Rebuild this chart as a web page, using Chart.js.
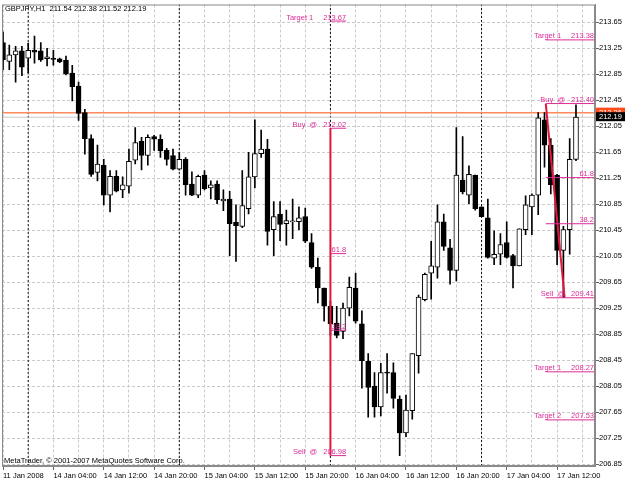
<!DOCTYPE html>
<html><head><meta charset="utf-8">
<script src="https://cdn.jsdelivr.net/npm/chart.js@4/dist/chart.umd.min.js"></script>
<style>html,body{margin:0;padding:0;background:#fff}canvas{display:block}</style>
</head><body>
<canvas id="c" width="625" height="481"></canvas>
<script>
// ---------- data ----------
const chartTitle = 'GBPJPY,H1  211.54 212.38 211.52 212.19';
const copyrightText = 'MetaTrader, \u00A9 2001-2007 MetaQuotes Software Corp.';

const opens  = [213.34,213.05,213.15,213.21,213.10,213.22,213.21,213.09,213.09,213.09,213.07,212.87,212.67,212.26,211.86,211.34,211.45,210.99,211.28,211.07,211.13,211.53,211.82,211.60,211.89,211.85,211.68,211.60,211.39,211.54,211.16,210.99,211.30,211.10,211.16,210.90,210.93,210.57,210.51,210.78,211.27,211.63,211.70,210.46,210.70,210.55,210.58,210.58,210.66,210.26,209.88,209.56,209.28,209.02,208.89,209.25,209.56,209.01,208.43,208.05,207.73,208.26,208.26,207.85,207.33,207.67,208.52,209.38,209.79,209.88,210.58,210.18,209.83,211.22,210.99,211.30,210.81,210.64,210.02,210.08,210.26,210.06,209.90,210.46,210.81,210.99,212.15,211.76,211.30,210.14,210.46,211.54];
const highs  = [213.50,213.30,213.28,213.28,213.33,213.44,213.34,213.25,213.22,213.10,213.13,212.99,212.73,212.31,211.92,211.76,211.54,211.37,211.37,211.27,211.70,212.03,211.88,211.92,211.91,211.92,211.71,211.70,211.65,211.57,211.35,211.30,211.37,211.21,211.21,211.07,211.05,210.84,211.37,211.65,212.15,211.99,211.85,210.89,210.89,210.76,210.93,210.81,210.79,210.40,210.02,209.56,209.36,209.28,209.33,209.73,209.79,209.21,208.55,208.26,208.40,208.55,208.41,207.90,207.91,208.55,209.45,209.79,210.28,210.84,210.70,210.31,212.03,211.89,211.44,211.30,210.81,210.93,210.44,210.40,210.58,210.08,210.47,210.98,211.01,212.26,212.26,211.86,211.31,210.51,211.86,212.38];
const lows   = [212.92,212.92,212.73,212.83,212.87,213.02,213.05,212.98,212.99,213.03,212.84,212.44,212.14,211.62,211.28,211.21,210.84,210.73,211.04,210.95,211.02,211.47,211.38,211.45,211.68,211.57,211.45,211.38,211.38,210.99,210.98,210.95,211.07,210.93,210.86,210.75,210.06,209.97,210.49,210.70,211.10,211.57,210.22,210.06,210.29,210.22,210.32,210.46,210.26,209.86,209.33,209.05,208.83,208.79,208.78,209.13,209.02,208.02,207.57,207.57,207.59,207.94,207.71,206.98,207.27,207.54,208.25,209.36,209.39,209.71,210.14,209.62,209.67,211.01,210.86,210.76,210.66,210.02,209.92,209.92,210.02,209.56,209.90,210.38,210.38,210.69,211.42,211.01,209.92,209.41,210.08,211.52];
const closes = [213.07,213.15,213.21,212.96,213.22,213.19,213.07,213.12,213.08,213.04,212.86,212.66,212.25,211.86,211.31,211.47,210.99,211.28,211.05,211.15,211.51,211.80,211.60,211.88,211.85,211.67,211.54,211.39,211.54,211.15,210.99,211.28,211.09,211.15,210.92,210.93,210.55,210.52,210.83,211.27,211.63,211.70,210.43,210.66,210.54,210.60,210.58,210.64,210.28,209.88,209.56,209.28,209.01,208.83,209.25,209.57,209.05,208.44,208.03,207.73,208.26,208.25,207.86,207.33,207.68,208.55,209.42,209.77,209.90,210.58,210.20,209.83,211.30,211.04,211.31,210.78,210.66,210.03,210.08,210.23,210.03,209.90,210.47,210.84,210.99,212.18,211.76,211.15,210.14,210.46,211.54,212.19];

const timeLabelBars  = [0,8,16,24,32,40,48,56,64,72,80,88];
const timeLabelTexts = ['11 Jan 2008','14 Jan 04:00','14 Jan 12:00','14 Jan 20:00','15 Jan 04:00','15 Jan 12:00','15 Jan 20:00','16 Jan 04:00','16 Jan 12:00','16 Jan 20:00','17 Jan 04:00','17 Jan 12:00'];
const priceTicks = [206.85,207.25,207.65,208.05,208.45,208.85,209.25,209.65,210.05,210.45,210.85,211.25,211.65,212.05,212.45,212.85,213.25,213.65];
const daySeparatorBars = [4,28,52,76];

const askPrice = 212.26;
const bidPrice = 212.19;

// left signal (bar 52)
const leftLevelNames  = ['Target 1','Buy  @','61.8','38.2','Sell  @'];
const leftLevelPrices = [213.67,212.02,210.09,208.91,206.98];
const leftLevelFrom = 52, leftLevelTo = 54.5;
const leftSignalBars   = [52,52];
const leftSignalPrices = [212.02,206.98];

// right signal (bar 86)
const rightLevelNames  = ['Target 1','Buy  @','61.8','38.2','Sell  @','Target 1','Target 2'];
const rightLevelPrices = [213.38,212.40,211.26,210.55,209.41,208.27,207.53];
const rightLevelFrom = 86.2;
const rightSignalBars   = [86.2,89.2];
const rightSignalPrices = [212.40,209.41];

// ---------- view ----------
const X_MIN = -0.16, X_MAX = 94.02, Y_MIN = 206.82, Y_MAX = 213.925;
const FONT = '"Liberation Sans", Arial, sans-serif';
const FS = 7.5;
const PINK = '#DC2C98';
const RED = '#E3173E';

const bodies = opens.map((o,i)=>({x:i, y:[o, closes[i]]}));
const wicks  = lows.map((l,i)=>({x:i, y:[l, highs[i]]}));
function hSegments(prices, from, to){const p=[];prices.forEach(v=>{p.push({x:from,y:v},{x:to,y:v},{x:to,y:null});});return p;}
function vSegments(bars){const p=[];bars.forEach(b=>{p.push({x:b,y:Y_MIN},{x:b,y:Y_MAX},{x:b,y:null});});return p;}
const zipPts = (xs,ys)=>xs.map((x,i)=>({x, y:ys[i]}));

const overlay = {
  id:'overlay',
  beforeDraw(chart){const c=chart.ctx;c.save();c.fillStyle='#fff';c.fillRect(0,0,chart.width,chart.height);c.restore();},
  afterDatasetsDraw(chart){
    const {ctx, scales:{x,y}} = chart;
    ctx.save();
    ctx.font = FS+'px '+FONT;
    ctx.fillStyle = PINK; ctx.textAlign='right'; ctx.textBaseline='alphabetic';
    function group(names, prices, xr){
      names.forEach((n,i)=>{
        const py = y.getPixelForValue(prices[i]) - 1.5;
        if (/^\d/.test(n)) { ctx.fillText(n, xr, py); return; }
        const pt = prices[i].toFixed(2);
        ctx.fillText(pt, xr, py);
        const gap = n.startsWith('Target') ? 10 : 6;
        ctx.fillText(n, xr - ctx.measureText(pt).width - gap, py);
      });
    }
    group(leftLevelNames, leftLevelPrices, x.getPixelForValue(leftLevelTo));
    group(rightLevelNames, rightLevelPrices, x.getPixelForValue(X_MAX) - 1);
    ctx.restore();
  },
  afterDraw(chart){
    const {ctx, chartArea:a, scales:{y}} = chart;
    ctx.save();
    ctx.strokeStyle='#8a8a8a'; ctx.lineWidth=1;
    ctx.strokeRect(a.left+0.5, a.top+0.5, a.right-a.left-1, a.bottom-a.top-1);
    ctx.font = FS+'px '+FONT; ctx.textBaseline='middle'; ctx.textAlign='left';
    // ask / bid price boxes
    [[askPrice,'#FF4A1C'],[bidPrice,'#000']].forEach(([p,col])=>{
      const py = y.getPixelForValue(p) - 0.5;
      ctx.fillStyle = col; ctx.fillRect(a.right+1, py-4.5, chart.width-a.right-1, 9);
      ctx.fillStyle = '#fff'; ctx.fillText(p.toFixed(2), a.right+4, py+0.5);
    });
    ctx.fillStyle='#000'; ctx.textBaseline='alphabetic';
    ctx.fillText(chartTitle, 5, 11);
    ctx.fillText(copyrightText, 4, 463);
    ctx.restore();
  }
};

new Chart(document.getElementById('c'), {
  type:'bar',
  data:{datasets:[
    {type:'line', data:hSegments(leftLevelPrices,leftLevelFrom,leftLevelTo), borderColor:PINK, borderWidth:1, pointRadius:0, order:0},
    {type:'line', data:hSegments(rightLevelPrices,rightLevelFrom,X_MAX), borderColor:PINK, borderWidth:1, pointRadius:0, order:0},
    {type:'line', data:zipPts(leftSignalBars,leftSignalPrices), borderColor:RED, borderWidth:2, pointRadius:0, order:0},
    {type:'line', data:zipPts(rightSignalBars,rightSignalPrices), borderColor:RED, borderWidth:2, pointRadius:0, order:0},
    {type:'bar', data:bodies, grouped:false, barThickness:5, minBarLength:1, borderWidth:1, borderColor:'#000', borderSkipped:false,
      backgroundColor:c=>closes[c.dataIndex]>=opens[c.dataIndex]?'#fff':'#000', order:1},
    {type:'bar', data:wicks, grouped:false, barThickness:1, backgroundColor:'#000', borderWidth:0, order:2},
    {type:'line', data:hSegments([askPrice],X_MIN,X_MAX), borderColor:'#FF8A5C', borderWidth:1.5, pointRadius:0, order:3},
    {type:'line', data:hSegments([bidPrice],X_MIN,X_MAX), borderColor:'#C8C8C8', borderWidth:1, pointRadius:0, order:3},
    {type:'line', data:vSegments(daySeparatorBars), borderColor:'#111', borderWidth:1, borderDash:[2,2], pointRadius:0, order:4}
  ]},
  options:{
    responsive:false, animation:false, devicePixelRatio:1,
    layout:{padding:{left:2, top:1, right:0, bottom:0}, autoPadding:false},
    plugins:{legend:{display:false}, tooltip:{enabled:false}, title:{display:false}},
    font:{family:FONT, size:FS},
    scales:{
      x:{type:'linear', position:'bottom', min:X_MIN, max:X_MAX, offset:false,
        afterBuildTicks:s=>{const t=[];for(let v=0;v<=92;v+=4)t.push({value:v});s.ticks=t;},
        afterFit:s=>{s.height=15;},
        grid:{offset:false, color:'#CACACA', lineWidth:1, drawTicks:true, tickLength:4,
          tickColor:c=>timeLabelBars.includes(c.tick&&c.tick.value)?'#666':'rgba(0,0,0,0)'},
        border:{display:true, color:'#8a8a8a', dash:[3,2]},
        ticks:{autoSkip:false, maxRotation:0, minRotation:0, align:'start', padding:1, color:'#000',
          font:{family:FONT, size:FS},
          callback:v=>{const k=timeLabelBars.indexOf(v);return k>=0?timeLabelTexts[k]:'';}}
      },
      y:{type:'linear', position:'right', min:Y_MIN, max:Y_MAX,
        afterBuildTicks:s=>{s.ticks=priceTicks.map(v=>({value:v}));},
        afterFit:s=>{s.width=30;},
        grid:{color:'#CACACA', lineWidth:1, drawTicks:true, tickLength:4, tickColor:'#666'},
        border:{display:true, color:'#8a8a8a', dash:[3,2]},
        ticks:{padding:0, color:'#000', font:{family:FONT, size:FS}, callback:v=>v.toFixed(2)}
      }
    }
  },
  plugins:[overlay]
});
</script>
</body></html>
